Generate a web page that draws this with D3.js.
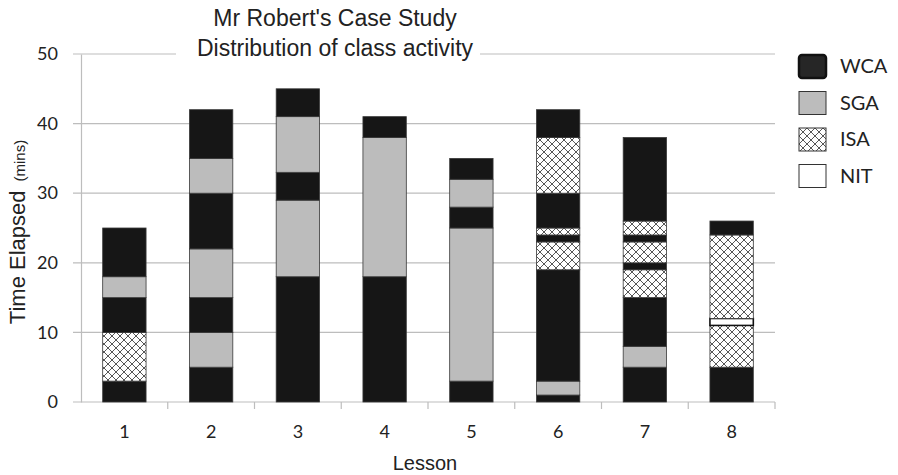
<!DOCTYPE html>
<html>
<head>
<meta charset="utf-8">
<script src="https://cdnjs.cloudflare.com/ajax/libs/d3/7.8.5/d3.min.js"></script>
<style>
  body { margin: 0; background: #fff; }
  svg { display: block; }
</style>
</head>
<body>
<script>
// lessons and the activity types, in legend order
const lessons = ['1', '2', '3', '4', '5', '6', '7', '8']
const activityTypes = ['WCA', 'SGA', 'ISA', 'NIT']
const yTicks = [0, 10, 20, 30, 40, 50]

// each lesson is a sequence of activities (bottom to top) with their durations in minutes
const lessonActivities = [
  ['WCA', 'ISA', 'WCA', 'SGA', 'WCA'],
  ['WCA', 'SGA', 'WCA', 'SGA', 'WCA', 'SGA', 'WCA'],
  ['WCA', 'SGA', 'WCA', 'SGA', 'WCA'],
  ['WCA', 'SGA', 'WCA'],
  ['WCA', 'SGA', 'WCA', 'SGA', 'WCA'],
  ['WCA', 'SGA', 'WCA', 'ISA', 'WCA', 'ISA', 'WCA', 'ISA', 'WCA'],
  ['WCA', 'SGA', 'WCA', 'ISA', 'WCA', 'ISA', 'WCA', 'ISA', 'WCA'],
  ['WCA', 'ISA', 'NIT', 'ISA', 'WCA']
]
const lessonDurations = [
  [3, 7, 5, 3, 7],
  [5, 5, 5, 7, 8, 5, 7],
  [18, 11, 4, 8, 4],
  [18, 20, 3],
  [3, 22, 3, 4, 3],
  [1, 2, 16, 4, 1, 1, 5, 8, 4],
  [5, 3, 7, 4, 1, 3, 1, 2, 12],
  [5, 6, 1, 12, 2]
]

let width = 898,
    height = 475
const margin = {left: 81, right: 123, top: 54, bottom: 73}
const tickFont = 'Lato, "Open Sans", sans-serif'
const titleFont = '"Liberation Sans", Arial, sans-serif'

let svg = d3.select('body').append('svg')
  .attr('width', width)
  .attr('height', height)

// crosshatch for ISA
let defs = svg.append('defs')
let hatch = defs.append('pattern')
  .attr('id', 'hatch')
  .attr('patternUnits', 'userSpaceOnUse')
  .attr('width', 8)
  .attr('height', 8)
hatch.append('rect').attr('width', 8).attr('height', 8).attr('fill', '#fff')
hatch.append('path')
  .attr('d', 'M0,0L8,8M8,0L0,8')
  .attr('stroke', '#444')
  .attr('stroke-width', 0.9)

const fills = {WCA: '#161616', SGA: '#bcbcbc', ISA: 'url(#hatch)', NIT: '#ffffff'}

const x = d3.scaleBand().domain(lessons)
  .range([margin.left, width - margin.right])
  .paddingInner(0.5).paddingOuter(0.25)
const y = d3.scaleLinear().domain([0, 50]).range([height - margin.bottom, margin.top])

// grid
svg.append('g').selectAll('line').data(yTicks).enter().append('line')
  .attr('x1', margin.left - 8)
  .attr('x2', width - margin.right)
  .attr('y1', d => y(d))
  .attr('y2', d => y(d))
  .style('stroke', '#bdbdbd')
  .style('stroke-width', 1.2)

// y axis
let yAxis = svg.append('g')
  .attr('transform', `translate(${margin.left},0)`)
  .call(d3.axisLeft(y).tickValues(yTicks).tickSize(0).tickPadding(23))
yAxis.select('.domain').attr('stroke', '#bdbdbd').attr('stroke-width', 1.2)
yAxis.selectAll('text')
  .style('font-family', tickFont)
  .style('font-size', '18px')
  .attr('fill', '#222')

// x axis with ticks at the category boundaries
let xAxis = svg.append('g')
  .attr('transform', `translate(0,${y(0)})`)
  .call(d3.axisBottom(x).tickSize(0).tickPadding(23))
xAxis.select('.domain').remove()
xAxis.selectAll('text')
  .style('font-family', tickFont)
  .style('font-size', '18px')
  .attr('fill', '#222')
const step = x.step()
svg.append('g').selectAll('line').data(lessons).enter().append('line')
  .attr('x1', d => x(d) + x.bandwidth() / 2 + step / 2)
  .attr('x2', d => x(d) + x.bandwidth() / 2 + step / 2)
  .attr('y1', y(0))
  .attr('y2', y(0) + 7)
  .style('stroke', '#bdbdbd')
  .style('stroke-width', 1.2)

// stacked segments in time order
let segments = []
lessons.forEach((lesson, i) => {
  let start = 0
  lessonActivities[i].forEach((type, j) => {
    const end = start + lessonDurations[i][j]
    segments.push({lesson, type, start, end})
    start = end
  })
})

svg.append('g').selectAll('rect').data(segments).enter().append('rect')
  .attr('x', d => x(d.lesson))
  .attr('width', x.bandwidth())
  .attr('y', d => y(d.end))
  .attr('height', d => y(d.start) - y(d.end))
  .attr('fill', d => fills[d.type])
  .attr('stroke', d => d.type === 'NIT' ? '#111' : '#3a3a3a')
  .attr('stroke-width', d => d.type === 'NIT' ? 1.6 : 0.8)

// title, with white backing over the top gridline
svg.append('rect')
  .attr('x', 176).attr('y', 36)
  .attr('width', 304).attr('height', 28)
  .attr('fill', '#fff')
let title = svg.append('text')
  .attr('text-anchor', 'middle')
  .style('font-family', titleFont)
  .style('font-size', '23px')
  .attr('fill', '#222')
title.append('tspan').attr('x', 335).attr('y', 26).text("Mr Robert's Case Study")
title.append('tspan').attr('x', 335).attr('y', 56).text('Distribution of class activity')

// axis titles
let yTitle = svg.append('text')
  .attr('transform', `translate(25,232) rotate(-90)`)
  .attr('text-anchor', 'middle')
  .style('font-family', titleFont)
  .attr('fill', '#222')
yTitle.append('tspan').style('font-size', '22px').text('Time Elapsed')
yTitle.append('tspan').style('font-size', '15px').attr('dx', 9).text('(mins)')

svg.append('text')
  .attr('x', 425)
  .attr('y', 470)
  .attr('text-anchor', 'middle')
  .style('font-family', titleFont)
  .style('font-size', '20px')
  .attr('fill', '#222')
  .text('Lesson')

// legend
let legend = svg.append('g').selectAll('g').data(activityTypes).enter().append('g')
  .attr('transform', (d, i) => `translate(799,${55 + i * 36.5})`)
legend.append('rect')
  .attr('width', 27)
  .attr('height', 23)
  .attr('rx', d => d === 'WCA' ? 3 : 0)
  .attr('fill', d => d === 'WCA' ? '#262626' : fills[d])
  .attr('stroke', d => d === 'WCA' ? '#111' : '#333')
  .attr('stroke-width', d => d === 'WCA' ? 2.5 : 1)
legend.append('text')
  .attr('x', 41)
  .attr('y', 18)
  .style('font-family', tickFont)
  .style('font-size', '20px')
  .attr('fill', '#222')
  .text(d => d)
</script>
</body>
</html>
